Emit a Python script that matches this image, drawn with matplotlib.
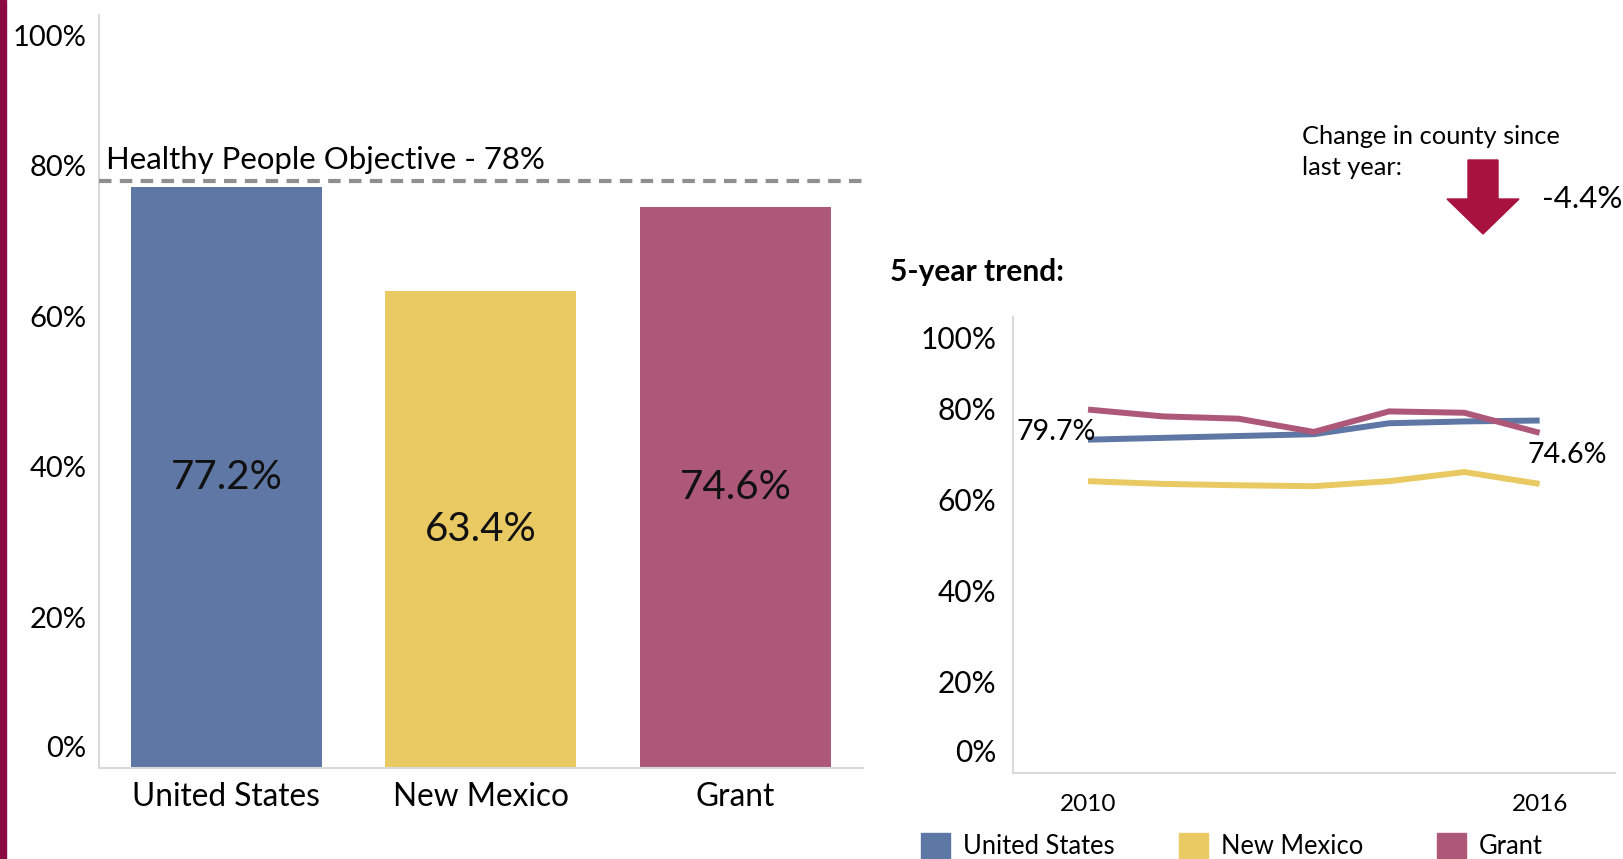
import numpy as np
import matplotlib.pyplot as plt
from matplotlib.patches import Rectangle, FancyArrow

plt.rcParams['font.family'] = ['Lato', 'DejaVu Sans']

# bar chart data
places = ['United States', 'New Mexico', 'Grant']
rates = [77.2, 63.4, 74.6]
colors = ['#5E77A4', '#E9C962', '#AE5879']
objective = 78

# 5-year trend data
years = [2010, 2011, 2012, 2013, 2014, 2015, 2016]
us_trend = [73.1, 73.5, 73.9, 74.3, 76.7, 77.1, 77.3]
nm_trend = [64.0, 63.4, 63.1, 62.9, 64.0, 66.0, 63.4]
grant_trend = [79.7, 78.2, 77.7, 74.8, 79.3, 79.0, 74.6]
change = -4.4

pct_labels = ['0%', '20%', '40%', '60%', '80%', '100%']

fig = plt.figure(figsize=(16.23, 8.59), dpi=100)
# maroon stripe on the left
fig.patches.append(Rectangle((0, 0), 6 / 1623, 1, transform=fig.transFigure,
                             color='#8B0A43', zorder=5))

# ---- left: bars ----
ax = fig.add_axes([0.061, 0.106, 0.4707, 0.876])
x = np.arange(len(places))
ax.bar(x, rates, width=0.75, color=colors, zorder=2)
for xi, v in zip(x, rates):
    ax.text(xi, v / 2, f'{v}%', ha='center', va='center', fontsize=29, color='#111111')
ax.axhline(objective, color='#8F8F8F', lw=3, ls=(0, (3, 2)), zorder=3)
ax.annotate(f'Healthy People Objective - {objective}%', xy=(0, objective),
            xycoords=('axes fraction', 'data'), xytext=(5, 5),
            textcoords='offset points', fontsize=22.4, va='bottom', ha='left')
ax.set_xlim(-0.5, 2.5)
ax.set_ylim(0, 100)
ax.set_xticks(x)
ax.set_xticklabels(places, fontsize=22.8)
# end labels sit inside the range, as in the original
ax.set_yticks([2.8, 20, 40, 60, 80, 97.3])
ax.set_yticklabels(pct_labels, fontsize=21)
ax.tick_params(axis='y', length=0, pad=9)
ax.tick_params(axis='x', length=0, pad=10)
for s in ['top', 'right']:
    ax.spines[s].set_visible(False)
for s in ['left', 'bottom']:
    ax.spines[s].set_color('#D9D9D9')
    ax.spines[s].set_linewidth(1.5)

# ---- right: trend lines ----
ax2 = fig.add_axes([0.624, 0.100, 0.371, 0.531])
ax2.plot(years, us_trend, color=colors[0], lw=4.3, solid_capstyle='butt')
ax2.plot(years, nm_trend, color=colors[1], lw=4.3, solid_capstyle='butt')
ax2.plot(years, grant_trend, color=colors[2], lw=4.3, solid_capstyle='butt')
ax2.set_xlim(2009, 2017)
ax2.set_ylim(0, 100)
ax2.set_xticks([years[0], years[-1]])
ax2.set_xticklabels([str(years[0]), str(years[-1])], fontsize=17.5)
ax2.set_yticks([5, 20, 40, 60, 80, 95.6])
ax2.set_yticklabels(pct_labels, fontsize=21.5)
ax2.tick_params(axis='y', length=0, pad=12)
ax2.tick_params(axis='x', length=0, pad=15)
for s in ['top', 'right']:
    ax2.spines[s].set_visible(False)
for s in ['left', 'bottom']:
    ax2.spines[s].set_color('#D9D9D9')
    ax2.spines[s].set_linewidth(1.5)
ax2.annotate(f'{grant_trend[0]}%', xy=(years[0], grant_trend[0]), xytext=(6, -16.5),
             textcoords='offset points', ha='right', va='center', fontsize=20.6)
ax2.annotate(f'{grant_trend[-1]}%', xy=(years[-1], grant_trend[-1]), xytext=(-9, -16),
             textcoords='offset points', ha='left', va='center', fontsize=20.6)

fig.text(890 / 1623, 1 - 272 / 859, '5-year trend:', fontsize=21.5, fontweight='bold',
         ha='left', va='center')
fig.text(1302 / 1623, 1 - 152 / 859, 'Change in county since\nlast year:', fontsize=18.3,
         ha='left', va='center', linespacing=1.45)
fig.patches.append(FancyArrow(1483 / 1623, 1 - 160 / 859, 0, -74 / 859,
                              width=30 / 1623, head_width=72 / 1623,
                              head_length=35 / 859, length_includes_head=True,
                              transform=fig.transFigure, color='#A8123E'))
fig.text(1542 / 1623, 1 - 199 / 859, f'{change}%', fontsize=22.5, ha='left', va='center')

# legend at bottom
leg_x = [921, 1179, 1437]
for lx, name, c in zip(leg_x, places, colors):
    fig.patches.append(Rectangle((lx / 1623, 0), 29 / 1623, 26 / 859,
                                 transform=fig.transFigure, color=c))
    fig.text((lx + 42) / 1623, 1 - 847 / 859, name, fontsize=18.4, ha='left', va='center')

fig.savefig('out.png', dpi=100)
